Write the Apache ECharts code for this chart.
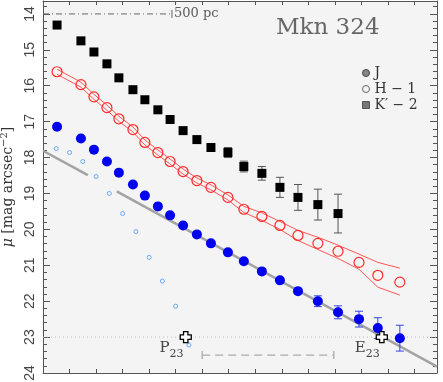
<!DOCTYPE html>
<html>
<head>
<meta charset="utf-8">
<script src="https://cdn.jsdelivr.net/npm/echarts@6/dist/echarts.min.js"></script>
<style>
html, body { margin: 0; padding: 0; background: #fff; }
#chart { width: 443px; height: 382px; }
</style>
</head>
<body>
<div id="chart"></div>
<script>
// radius (in tick units) of the measured profile points
const radius = [0.53, 1.43, 1.92, 2.41, 2.86, 3.39, 3.84, 4.33, 4.79, 5.28, 5.80, 6.33, 6.97, 7.57, 8.25, 8.93, 9.61, 10.36, 11.12, 11.91, 12.62, 13.45]

// J band
const magJ = [17.14, 17.47, 17.78, 18.11, 18.42, 18.75, 19.06, 19.36, 19.61, 19.89, 20.14, 20.39, 20.64, 20.89, 21.17, 21.42, 21.72, 22.00, 22.31, 22.50, 22.75, 23.03]
const errJ = [0, 0, 0, 0, 0, 0, 0, 0, 0, 0, 0, 0, 0, 0, 0, 0, 0, 0.15, 0.18, 0.22, 0.29, 0.36]

// H band (shifted by -1) and its error envelope
const magH = [15.61, 15.97, 16.31, 16.61, 16.92, 17.22, 17.58, 17.86, 18.11, 18.39, 18.64, 18.83, 19.11, 19.44, 19.64, 19.89, 20.17, 20.39, 20.61, 20.92, 21.28, 21.47]
const bandHUp = [15.54, 15.90, 16.24, 16.54, 16.85, 17.15, 17.51, 17.79, 18.04, 18.32, 18.57, 18.76, 19.04, 19.36, 19.54, 19.78, 20.03, 20.22, 20.44, 20.69, 20.92, 21.08]
const bandHLo = [15.68, 16.04, 16.38, 16.68, 16.99, 17.29, 17.65, 17.93, 18.18, 18.46, 18.71, 18.90, 19.18, 19.53, 19.75, 20.00, 20.31, 20.56, 20.81, 21.11, 21.61, 21.83]

// K' band (shifted by -2), first 19 radii
const magK = [14.31, 14.75, 15.06, 15.39, 15.78, 16.11, 16.39, 16.67, 16.94, 17.25, 17.50, 17.72, 17.86, 18.25, 18.44, 18.83, 19.11, 19.31, 19.56]
const errK = [0, 0, 0, 0, 0, 0, 0, 0, 0, 0, 0, 0, 0.14, 0.15, 0.19, 0.28, 0.36, 0.43, 0.54]

// inner component (small open circles)
const radiusModel = [0.5, 1.0, 1.5, 2.0, 2.5, 3.0, 3.5, 4.0, 4.5, 5.0, 5.5]
const magModel = [17.75, 17.86, 18.11, 18.53, 19.00, 19.56, 20.06, 20.78, 21.44, 22.14, 23.22]

// exponential disc fit (two pieces)
const fitX1 = [0, 1.69]
const fitY1 = [17.81, 18.49]
const fitX2 = [2.78, 14.85]
const fitY2 = [18.94, 23.82]

// P23 / E23 markers
const crossX = [5.38, 12.77]
const crossMag = [23, 23]
const crossName = ['P', 'E']

// scale bars
const barTopX = [0, 4.86]
const barTopMag = 14
const barBotX = [6, 10.96]
const barBotMag = 23.5
const isophote = 23

const yTicks = [14, 15, 16, 17, 18, 19, 20, 21, 22, 23, 24]
const yMinor = []
for (let v = 13.8; v < 24.01; v += 0.2) yMinor.push(Math.round(v * 10) / 10)

const chart = echarts.init(document.getElementById('chart'))

const axisColor = '#555'
const serif = 'DejaVu Serif'

function errorBars (xs, ys, errs, color) {
  const data = []
  xs.forEach((x, i) => {
    if (errs[i] > 0) data.push([x, ys[i] - errs[i], ys[i] + errs[i]])
  })
  return {
    type: 'custom',
    data: data,
    encode: { x: 0, y: [1, 2] },
    z: 3,
    renderItem: (params, api) => {
      const a = api.coord([api.value(0), api.value(1)])
      const b = api.coord([api.value(0), api.value(2)])
      const w = 4
      const st = { stroke: color, lineWidth: 1 }
      return {
        type: 'group',
        children: [
          { type: 'line', shape: { x1: a[0], y1: a[1], x2: b[0], y2: b[1] }, style: st },
          { type: 'line', shape: { x1: a[0] - w, y1: a[1], x2: a[0] + w, y2: a[1] }, style: st },
          { type: 'line', shape: { x1: b[0] - w, y1: b[1], x2: b[0] + w, y2: b[1] }, style: st }
        ]
      }
    }
  }
}

function seg (xs, ys, color, width, type) {
  return {
    type: 'line',
    data: xs.map((x, i) => [x, ys[i]]),
    symbol: 'none',
    silent: true,
    lineStyle: { color: color, width: width, type: type || 'solid' },
    z: 1
  }
}

const yAxisBase = {
  type: 'value',
  inverse: true,
  min: 13.64,
  max: 24,
  splitLine: { show: false },
  axisLine: { show: false },
  axisLabel: { show: false },
  axisTick: { show: false }
}

const option = {
  animation: false,
  backgroundColor: '#fff',
  title: {
    text: 'Mkn 324',
    left: 271,
    top: 12,
    textStyle: { fontFamily: serif, fontWeight: 'normal', fontSize: 23, color: '#666' }
  },
  legend: {
    orient: 'vertical',
    left: 357,
    top: 61,
    itemWidth: 7,
    itemHeight: 7,
    itemGap: 2,
    selectedMode: false,
    textStyle: { fontFamily: serif, fontSize: 14, color: '#333' },
    data: [
      { name: 'J', icon: 'circle', itemStyle: { color: '#888', borderColor: '#444', borderWidth: 1 } },
      { name: 'H − 1', icon: 'circle', itemStyle: { color: '#f4f4f4', borderColor: '#666', borderWidth: 1 } },
      { name: 'K′ − 2', icon: 'rect', itemStyle: { color: '#777', borderColor: '#555', borderWidth: 1 } }
    ]
  },
  grid: {
    left: 43,
    right: 6,
    top: 1,
    bottom: 9,
    outerBoundsMode: 'none',
    show: true,
    backgroundColor: '#f4f4f4',
    borderWidth: 0
  },
  xAxis: [
    {
      type: 'value',
      position: 'bottom',
      min: 0,
      max: 14.85,
      interval: 1,
      splitLine: { show: false },
      axisLine: { lineStyle: { color: axisColor } },
      axisTick: { inside: true, length: 4, lineStyle: { color: axisColor } },
      axisLabel: { show: false }
    },
    {
      type: 'value',
      position: 'top',
      min: 0,
      max: 14.85,
      interval: 1,
      splitLine: { show: false },
      axisLine: { lineStyle: { color: axisColor } },
      axisTick: { inside: true, length: 4, lineStyle: { color: axisColor } },
      axisLabel: { show: false }
    }
  ],
  yAxis: [
    {
      ...yAxisBase,
      position: 'left',
      axisLine: { show: true, lineStyle: { color: axisColor } },
      axisTick: { show: true, inside: true, length: 7, customValues: yTicks, lineStyle: { color: axisColor } },
      axisLabel: {
        show: true,
        customValues: yTicks,
        rotate: 90,
        margin: 6,
        fontFamily: 'Liberation Sans',
        fontSize: 14,
        color: '#444'
      },
      name: '{m|μ} [mag arcsec{s|−2}]',
      nameLocation: 'middle',
      nameGap: 24,
      nameTextStyle: {
        fontFamily: serif,
        fontSize: 14,
        color: '#333',
        rich: {
          m: { fontFamily: serif, fontSize: 14, fontStyle: 'italic', color: '#333' },
          s: { fontFamily: serif, fontSize: 10, color: '#333', padding: [0, 0, 8, 0] }
        }
      }
    },
    {
      ...yAxisBase,
      position: 'left',
      axisTick: { show: true, inside: true, length: 4, customValues: yMinor, lineStyle: { color: axisColor } }
    },
    {
      ...yAxisBase,
      position: 'right',
      axisLine: { show: true, lineStyle: { color: axisColor } },
      axisTick: { show: true, inside: true, length: 7, customValues: yTicks, lineStyle: { color: axisColor } }
    },
    {
      ...yAxisBase,
      position: 'right',
      axisTick: { show: true, inside: true, length: 4, customValues: yMinor, lineStyle: { color: axisColor } }
    }
  ],
  series: [
    // 23 mag isophote
    seg([0, 14.85], [isophote, isophote], '#bbb', 1, [1, 3]),
    // disc fit
    seg(fitX1, fitY1, '#a3a3a3', 2.5),
    seg(fitX2, fitY2, '#a3a3a3', 2.5),
    // 500 pc bar at top
    seg(barTopX, [barTopMag, barTopMag], '#666', 1, [6, 3, 1, 3]),
    seg([barTopX[1], barTopX[1]], [barTopMag - 0.11, barTopMag + 0.11], '#666', 1),
    {
      type: 'scatter',
      data: [[barTopX[1], barTopMag]],
      symbolSize: 0,
      silent: true,
      label: {
        show: true,
        position: 'right',
        distance: 2,
        formatter: '500 pc',
        fontFamily: serif,
        fontSize: 13,
        color: '#333'
      }
    },
    // P23-E23 bar
    seg(barBotX, [barBotMag, barBotMag], '#aaa', 1.3, [8, 5]),
    seg([barBotX[0], barBotX[0]], [barBotMag - 0.11, barBotMag + 0.11], '#aaa', 1.3),
    seg([barBotX[1], barBotX[1]], [barBotMag - 0.11, barBotMag + 0.11], '#aaa', 1.3),
    // H envelope
    seg(radius, bandHUp, '#ff5555', 1),
    seg(radius, bandHLo, '#ff5555', 1),
    // error bars
    errorBars(radius.slice(0, magK.length), magK, errK, '#555'),
    errorBars(radius, magJ, errJ, '#3344ee'),
    {
      type: 'scatter',
      data: radiusModel.map((x, i) => [x, magModel[i]]),
      symbol: 'circle',
      symbolSize: 4,
      itemStyle: { color: 'none', borderColor: '#6aa8f5', borderWidth: 1, opacity: 1 },
      z: 4
    },
    {
      name: 'K′ − 2',
      type: 'scatter',
      data: magK.map((v, i) => [radius[i], v]),
      symbol: 'rect',
      symbolSize: 9,
      itemStyle: { color: '#000', opacity: 1 },
      z: 5
    },
    {
      name: 'H − 1',
      type: 'scatter',
      data: magH.map((v, i) => [radius[i], v]),
      symbol: 'circle',
      symbolSize: 10,
      itemStyle: { color: 'none', borderColor: '#ff2a2a', borderWidth: 1.2, opacity: 1 },
      z: 5
    },
    {
      name: 'J',
      type: 'scatter',
      data: magJ.map((v, i) => [radius[i], v]),
      symbol: 'circle',
      symbolSize: 10,
      itemStyle: { color: '#0000f0', opacity: 1 },
      z: 5
    },
    {
      type: 'scatter',
      data: crossX.map((x, i) => [x, crossMag[i], crossName[i]]),
      symbol: 'path://M3,0H7V3H10V7H7V10H3V7H0V3H3Z',
      symbolSize: 11,
      itemStyle: { color: '#fff', borderColor: '#000', borderWidth: 1.3, opacity: 1 },
      z: 6,
      label: {
        show: true,
        position: [4, 6],
        align: 'right',
        verticalAlign: 'top',
        formatter: (p) => '{p|' + p.value[2] + '}{s|23}',
        rich: {
          p: { fontFamily: serif, fontSize: 15, color: '#444' },
          s: { fontFamily: serif, fontSize: 11, color: '#444', padding: [12, 0, 0, 0] }
        }
      }
    }
  ]
}

chart.setOption(option)
</script>
</body>
</html>
